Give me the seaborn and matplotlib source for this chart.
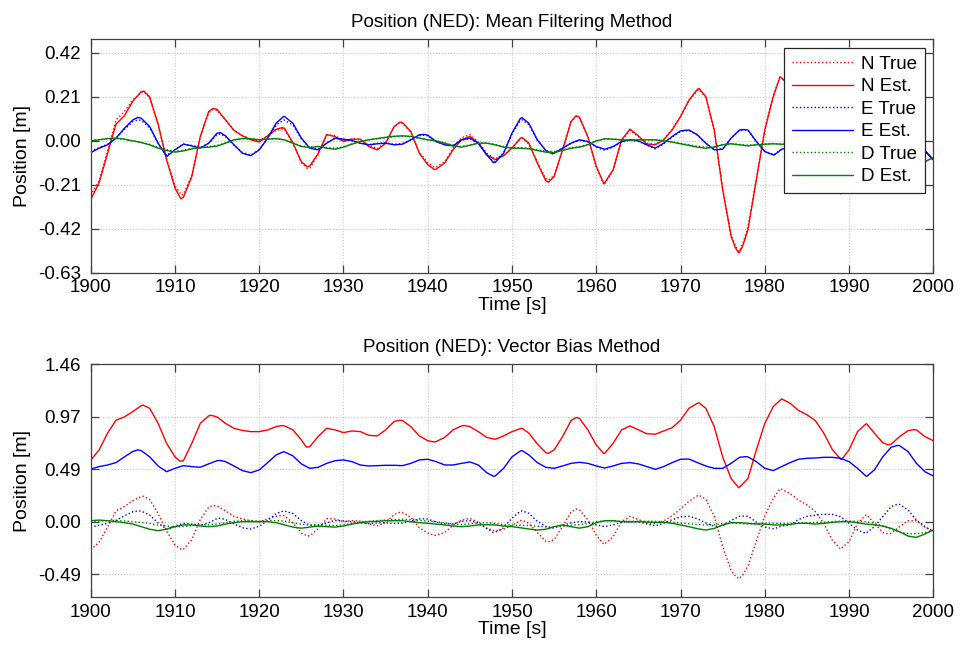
import numpy as np
import pandas as pd
import matplotlib
matplotlib.use("Agg")
import matplotlib.pyplot as plt
import seaborn as sns

time = np.arange(1900, 2001)

# ---- Mean filtering method (top) : values every second ----
n_est_top = [
    -0.28, -0.20, -0.06, 0.08, 0.12, 0.19, 0.235, 0.21, 0.08, -0.09,
    -0.225, -0.27, -0.17, 0.02, 0.14, 0.15, 0.10, 0.05, 0.024, 0.005,
    -0.005, 0.024, 0.055, 0.06, -0.01, -0.10, -0.12, -0.06, 0.03, 0.02,
    -0.003, 0.008, 0.008, -0.027, -0.043, -0.011, 0.068, 0.087, 0.044, -0.059,
    -0.114, -0.135, -0.106, -0.043, 0.005, 0.021, -0.011, -0.067, -0.09, -0.071,
    -0.035, 0.013, -0.011, -0.106, -0.19, -0.17, -0.043, 0.092, 0.113, 0.02,
    -0.122, -0.20, -0.138, 0.005, 0.056, 0.024, -0.015, -0.019, 0.005, 0.052,
    0.116, 0.195, 0.246, 0.211, 0.052, -0.233, -0.455, -0.532, -0.424, -0.186,
    0.052, 0.211, 0.30, 0.26, 0.20, 0.155, 0.093, -0.015, -0.17, -0.253,
    -0.185, -0.015, 0.062, -0.015, -0.10, -0.108, -0.046, 0.009, 0.009, -0.05, -0.09]
# extra samples read at the peaks / troughs
n_est_top_pk_t = [1906.3, 1910.7, 1914.5, 1922.7, 1925.7, 1936.7, 1940.8, 1951.2,
                  1954.3, 1957.6, 1960.9, 1972.2, 1976.5, 1976.9, 1977.4, 1981.8,
                  1992.1, 1994.6]
n_est_top_pk_v = [0.238, -0.277, 0.155, 0.063, -0.123, 0.09, -0.137, 0.016,
                  -0.198, 0.12, -0.205, 0.25, -0.51, -0.535, -0.50, 0.305,
                  0.064, -0.112]

n_true = [
    -0.26, -0.19, -0.05, 0.10, 0.14, 0.195, 0.232, 0.205, 0.075, -0.085,
    -0.215, -0.255, -0.165, 0.02, 0.135, 0.145, 0.10, 0.05, 0.026, 0.008,
    -0.002, 0.026, 0.05, 0.055, -0.012, -0.105, -0.13, -0.065, 0.028, 0.025,
    0.0, 0.01, 0.005, -0.02, -0.038, -0.008, 0.065, 0.085, 0.04, -0.055,
    -0.105, -0.125, -0.1, -0.035, 0.015, 0.03, -0.005, -0.06, -0.085, -0.07,
    -0.032, 0.01, -0.015, -0.1, -0.18, -0.165, -0.045, 0.09, 0.11, 0.018,
    -0.125, -0.205, -0.14, 0.0, 0.05, 0.02, -0.012, -0.015, 0.008, 0.055,
    0.118, 0.19, 0.24, 0.208, 0.05, -0.23, -0.45, -0.525, -0.41, -0.18,
    0.055, 0.215, 0.30, 0.26, 0.20, 0.155, 0.093, -0.015, -0.17, -0.253,
    -0.185, -0.015, 0.062, -0.015, -0.10, -0.108, -0.046, 0.009, 0.009, -0.05, -0.09]
n_true_pk_t = [1906.3, 1910.8, 1914.5, 1922.7, 1925.7, 1936.7, 1940.8, 1951.2,
               1954.3, 1957.6, 1960.9, 1972.2, 1976.5, 1976.9, 1977.4, 1981.8,
               1992.1, 1994.6]
n_true_pk_v = [0.235, -0.26, 0.15, 0.058, -0.132, 0.088, -0.127, 0.013,
               -0.188, 0.117, -0.21, 0.245, -0.5, -0.528, -0.49, 0.305,
               0.064, -0.112]

e_est_top = [
    -0.056, -0.035, -0.019, 0.013, 0.06, 0.10, 0.108, 0.068, -0.011, -0.075,
    -0.043, -0.016, -0.024, -0.035, -0.011, 0.037, 0.024, -0.019, -0.059, -0.071,
    -0.043, 0.013, 0.084, 0.116, 0.084, 0.013, -0.035, -0.043, -0.011, 0.013,
    0.008, 0.002, -0.011, -0.019, -0.014, -0.011, -0.019, -0.016, 0.005, 0.029,
    0.027, -0.003, -0.019, -0.024, 0.005, 0.013, -0.011, -0.067, -0.103, -0.059,
    0.037, 0.108, 0.084, 0.005, -0.046, -0.059, -0.035, -0.011, 0.005, -0.003,
    -0.027, -0.04, -0.027, -0.003, 0.005, 0.0, -0.019, -0.035, -0.011, 0.021,
    0.048, 0.052, 0.029, -0.011, -0.043, -0.04, 0.013, 0.052, 0.052, -0.003,
    -0.051, -0.067, -0.04, -0.03, 0.02, 0.05, 0.06, 0.068, 0.068, 0.046,
    -0.015, -0.077, -0.108, -0.046, 0.046, 0.14, 0.16, 0.108, 0.015, -0.046, -0.09]
e_est_top_pk_t = [1905.6, 1915.4, 1922.9, 1939.6, 1947.8, 1951.2, 1954.8, 1977.6,
                  1981.1, 1995.8]
e_est_top_pk_v = [0.112, 0.039, 0.117, 0.031, -0.104, 0.11, -0.062, 0.054,
                  -0.068, 0.163]

e_true = [
    -0.05, -0.032, -0.016, 0.012, 0.055, 0.092, 0.098, 0.062, -0.012, -0.07,
    -0.04, -0.015, -0.022, -0.032, -0.012, 0.03, 0.02, -0.02, -0.056, -0.068,
    -0.042, 0.01, 0.075, 0.098, 0.075, 0.01, -0.034, -0.04, -0.01, 0.012,
    0.007, 0.0, -0.012, -0.018, -0.012, -0.01, -0.016, -0.013, 0.005, 0.025,
    0.024, -0.004, -0.018, -0.022, 0.004, 0.01, -0.012, -0.064, -0.098, -0.057,
    0.033, 0.098, 0.078, 0.004, -0.044, -0.056, -0.034, -0.012, 0.002, -0.005,
    -0.03, -0.045, -0.03, -0.006, 0.003, -0.002, -0.02, -0.038, -0.014, 0.018,
    0.045, 0.05, 0.027, -0.012, -0.042, -0.038, 0.012, 0.05, 0.05, -0.004,
    -0.05, -0.065, -0.04, -0.03, 0.02, 0.05, 0.06, 0.068, 0.068, 0.046,
    -0.015, -0.077, -0.108, -0.046, 0.046, 0.14, 0.16, 0.108, 0.015, -0.046, -0.09]
e_true_pk_t = [1905.6, 1915.4, 1922.9, 1939.6, 1947.8, 1951.2, 1954.8, 1977.6,
               1981.1, 1995.8]
e_true_pk_v = [0.1, 0.032, 0.1, 0.027, -0.1, 0.1, -0.06, 0.052, -0.066, 0.163]

d_est_top = [
    0.0, 0.005, 0.011, 0.013, 0.008, 0.0, -0.008, -0.019, -0.035, -0.046,
    -0.054, -0.048, -0.038, -0.032, -0.03, -0.025, -0.011, 0.005, 0.011, 0.01,
    0.005, 0.008, 0.011, 0.005, -0.011, -0.027, -0.032, -0.027, -0.035, -0.04,
    -0.03, -0.016, -0.003, 0.005, 0.011, 0.017, 0.022, 0.024, 0.021, 0.013,
    0.005, 0.0, -0.011, -0.024, -0.03, -0.021, -0.011, -0.011, -0.019, -0.03,
    -0.035, -0.035, -0.038, -0.046, -0.054, -0.056, -0.046, -0.035, -0.03, -0.019,
    0.0, 0.01, 0.008, 0.005, 0.003, 0.005, 0.005, 0.005, 0.0, -0.006,
    -0.014, -0.022, -0.03, -0.035, -0.03, -0.019, -0.014, -0.019, -0.024, -0.019,
    -0.016, -0.014, -0.016, -0.015, -0.012, -0.01, -0.008, -0.005, 0.0, 0.005,
    0.006, 0.004, 0.0, -0.015, -0.04, -0.07, -0.095, -0.11, -0.112, -0.1, -0.08]

d_true = [
    0.002, 0.006, 0.01, 0.011, 0.007, 0.0, -0.007, -0.017, -0.031, -0.042,
    -0.049, -0.045, -0.036, -0.03, -0.028, -0.022, -0.01, 0.004, 0.01, 0.01,
    0.006, 0.008, 0.01, 0.005, -0.01, -0.024, -0.03, -0.026, -0.032, -0.036,
    -0.028, -0.015, -0.003, 0.005, 0.01, 0.015, 0.02, 0.022, 0.02, 0.012,
    0.005, 0.0, -0.01, -0.021, -0.027, -0.02, -0.011, -0.01, -0.017, -0.027,
    -0.032, -0.033, -0.035, -0.042, -0.049, -0.051, -0.043, -0.033, -0.027, -0.017,
    0.0, 0.009, 0.008, 0.005, 0.003, 0.005, 0.005, 0.004, 0.0, -0.005,
    -0.012, -0.019, -0.026, -0.03, -0.027, -0.018, -0.013, -0.017, -0.021, -0.017,
    -0.015, -0.013, -0.016, -0.015, -0.012, -0.01, -0.008, -0.005, 0.0, 0.005,
    0.006, 0.004, 0.0, -0.015, -0.04, -0.07, -0.095, -0.11, -0.112, -0.1, -0.08]

# ---- Vector bias method (bottom) ----
n_est_bot = [
    0.57, 0.665, 0.82, 0.94, 0.97, 1.02, 1.075, 1.05, 0.91, 0.726,
    0.60, 0.565, 0.726, 0.91, 0.98, 0.97, 0.91, 0.865, 0.845, 0.834,
    0.834, 0.85, 0.88, 0.887, 0.85, 0.757, 0.695, 0.79, 0.865, 0.85,
    0.825, 0.84, 0.834, 0.80, 0.794, 0.85, 0.927, 0.936, 0.88, 0.794,
    0.75, 0.742, 0.78, 0.85, 0.887, 0.88, 0.834, 0.78, 0.763, 0.794,
    0.834, 0.862, 0.82, 0.72, 0.64, 0.665, 0.788, 0.936, 0.958, 0.85,
    0.71, 0.633, 0.726, 0.85, 0.887, 0.85, 0.815, 0.81, 0.84, 0.87,
    0.94, 1.05, 1.097, 1.05, 0.88, 0.60, 0.40, 0.32, 0.40, 0.665,
    0.91, 1.066, 1.137, 1.097, 1.03, 0.99, 0.936, 0.82, 0.67, 0.578,
    0.665, 0.834, 0.905, 0.82, 0.732, 0.717, 0.788, 0.843, 0.85, 0.788, 0.75]
n_est_bot_pk_t = [1906.2, 1910.6, 1914.3, 1922.7, 1925.6, 1936.7, 1940.8, 1944.4,
                  1951.2, 1954.3, 1957.6, 1960.9, 1972.2, 1976.9, 1989.1, 1992.1,
                  1994.6, 1997.7]
n_est_bot_pk_v = [1.08, 0.56, 0.985, 0.89, 0.69, 0.94, 0.738, 0.89,
                  0.865, 0.632, 0.965, 0.63, 1.10, 0.315, 0.575, 0.905,
                  0.712, 0.852]

e_est_bot = [
    0.488, 0.51, 0.525, 0.547, 0.60, 0.65, 0.658, 0.60, 0.516, 0.463,
    0.494, 0.519, 0.51, 0.504, 0.535, 0.565, 0.556, 0.516, 0.473, 0.454,
    0.479, 0.547, 0.618, 0.646, 0.609, 0.535, 0.494, 0.504, 0.54, 0.565,
    0.572, 0.556, 0.525, 0.516, 0.519, 0.522, 0.522, 0.519, 0.54, 0.572,
    0.578, 0.556, 0.525, 0.525, 0.54, 0.553, 0.525, 0.454, 0.423, 0.494,
    0.60, 0.655, 0.618, 0.547, 0.504, 0.494, 0.516, 0.54, 0.55, 0.54,
    0.516, 0.497, 0.516, 0.54, 0.547, 0.535, 0.51, 0.485, 0.51, 0.547,
    0.578, 0.58, 0.547, 0.516, 0.494, 0.494, 0.54, 0.596, 0.60, 0.556,
    0.494, 0.473, 0.51, 0.547, 0.578, 0.587, 0.59, 0.596, 0.596, 0.587,
    0.556, 0.494, 0.423, 0.479, 0.60, 0.69, 0.704, 0.649, 0.54, 0.463, 0.423]
e_est_bot_pk_t = [1905.6, 1915.4, 1922.9, 1947.8, 1951.2, 1977.7, 1992.1, 1995.8]
e_est_bot_pk_v = [0.665, 0.567, 0.648, 0.42, 0.658, 0.602, 0.42, 0.707]

d_est_bot = [
    0.009, 0.015, 0.009, 0.0, -0.009, -0.022, -0.046, -0.07, -0.083, -0.07,
    -0.046, -0.03, -0.03, -0.04, -0.046, -0.04, -0.022, -0.009, 0.0, 0.0,
    0.0, 0.0, -0.009, -0.03, -0.05, -0.06, -0.05, -0.04, -0.046, -0.05,
    -0.04, -0.022, -0.009, 0.0, 0.003, 0.009, 0.009, 0.009, 0.0, -0.009,
    -0.015, -0.022, -0.03, -0.04, -0.046, -0.04, -0.03, -0.028, -0.03, -0.04,
    -0.046, -0.056, -0.068, -0.077, -0.07, -0.046, -0.03, -0.046, -0.06, -0.046,
    -0.009, 0.009, 0.009, 0.0, -0.003, 0.0, -0.003, -0.006, -0.006, -0.015,
    -0.03, -0.046, -0.065, -0.077, -0.062, -0.03, -0.009, -0.009, -0.015, -0.022,
    -0.022, -0.03, -0.03, -0.025, -0.015, -0.015, -0.022, -0.015, -0.006, 0.0,
    0.0, -0.009, -0.022, -0.03, -0.04, -0.062, -0.093, -0.133, -0.145, -0.114, -0.077]

labels = ["N True", "N Est.", "E True", "E Est.", "D True", "D Est."]
x_ticks = [1900, 1910, 1920, 1930, 1940, 1950, 1960, 1970, 1980, 1990, 2000]
top_yticks = [-0.63, -0.42, -0.21, 0.0, 0.21, 0.42]
top_yticklabels = ["-0.63", "-0.42", "-0.21", "0.00", "0.21", "0.42"]
bot_yticks = [-0.4867, 0.0, 0.4867, 0.9733, 1.46]
bot_yticklabels = ["-0.49", "0.00", "0.49", "0.97", "1.46"]


def series(vals, pk_t=(), pk_v=()):
    df = pd.DataFrame({"t": np.concatenate([time, np.asarray(pk_t, float)]),
                       "v": np.concatenate([np.asarray(vals, float), np.asarray(pk_v, float)])})
    return df.sort_values("t").reset_index(drop=True)


sns.set_style("ticks")
plt.rcParams["font.family"] = ["Liberation Sans", "DejaVu Sans"]
plt.rcParams["text.color"] = "black"
plt.rcParams["axes.labelcolor"] = "black"
plt.rcParams["lines.solid_joinstyle"] = "round"
plt.rcParams["lines.dash_joinstyle"] = "round"

RED, BLUE, GREEN = "#ff0000", "#0000ff", "#008000"

fig = plt.figure(figsize=(9.6, 6.52), dpi=100)
ax1 = fig.add_axes([0.0945, 0.5817, 0.8777, 0.3583])
ax2 = fig.add_axes([0.0945, 0.0839, 0.8777, 0.3578])


def draw(ax, data):
    styles = [(RED, ":"), (RED, "-"), (BLUE, ":"), (BLUE, "-"), (GREEN, ":"), (GREEN, "-")]
    for (col, ls), lab, df in zip(styles, labels, data):
        sns.lineplot(data=df, x="t", y="v", ax=ax, color=col, linestyle=ls,
                     linewidth=1.0, label=lab, legend=True, sort=True)


def style(ax, title, yticks, yticklabels, ylim):
    ax.set_xlim(1900, 2000)
    ax.set_ylim(*ylim)
    ax.set_xticks(x_ticks)
    ax.set_yticks(yticks)
    ax.set_yticklabels(yticklabels)
    ax.grid(True, color="#c8c8c8", linestyle=":", linewidth=0.8)
    ax.tick_params(direction="in", length=6, width=0.9, top=True, right=True,
                   labelsize=13.5, colors="#404040", labelcolor="black")
    ax.tick_params(axis="y", pad=7)
    ax.tick_params(axis="x", pad=4.5)
    for sp in ax.spines.values():
        sp.set_color("#404040")
        sp.set_linewidth(0.9)
    ax.set_xlabel("Time [s]", fontsize=14, labelpad=0.5)
    ax.set_ylabel("Position [m]", fontsize=14, labelpad=5)
    ax.set_title(title, fontsize=13.6, pad=9)


top_data = [series(n_true, n_true_pk_t, n_true_pk_v),
            series(n_est_top, n_est_top_pk_t, n_est_top_pk_v),
            series(e_true, e_true_pk_t, e_true_pk_v),
            series(e_est_top, e_est_top_pk_t, e_est_top_pk_v),
            series(d_true), series(d_est_top)]
bot_data = [series(n_true, n_true_pk_t, n_true_pk_v),
            series(n_est_bot, n_est_bot_pk_t, n_est_bot_pk_v),
            series(e_true, e_true_pk_t, e_true_pk_v),
            series(e_est_bot, e_est_bot_pk_t, e_est_bot_pk_v),
            series(d_true), series(d_est_bot)]

draw(ax1, top_data)
draw(ax2, bot_data)

style(ax1, "Position (NED): Mean Filtering Method", top_yticks, top_yticklabels, (-0.63, 0.486))
style(ax2, "Position (NED): Vector Bias Method", bot_yticks, bot_yticklabels, (-0.70, 1.46))

ax2.get_legend().remove()
leg = ax1.legend(loc="upper right", fontsize=13.5, frameon=True, fancybox=False,
                 edgecolor="#262626", framealpha=1.0, handlelength=3.3,
                 handletextpad=0.4, labelspacing=0.29, borderpad=0.42,
                 borderaxespad=0.45)
leg.get_frame().set_linewidth(0.9)

fig.savefig("out.png", dpi=100)
